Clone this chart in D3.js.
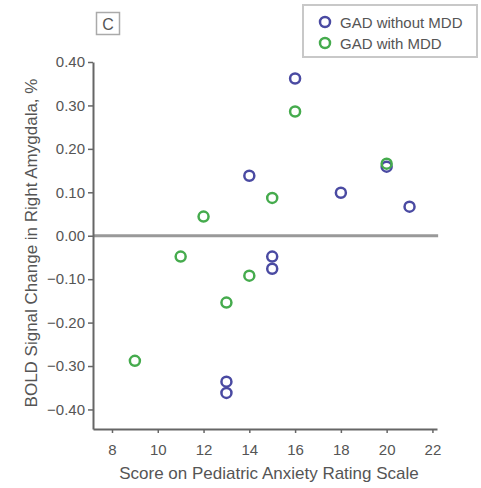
<!DOCTYPE html>
<html>
<head>
<meta charset="utf-8">
<script src="https://cdn.jsdelivr.net/npm/d3@7"></script>
<style>
  html, body { margin: 0; padding: 0; background: #fff; }
  svg { display: block; font-family: "Liberation Sans", Arial, sans-serif; }
</style>
</head>
<body>
<svg id="chart" width="481" height="488"></svg>
<script>
// PARS score vs. BOLD signal change, right amygdala
const withoutMddScores = [16, 14, 18, 20, 21, 15, 15, 13, 13];
const withoutMddBold   = [0.362, 0.138, 0.099, 0.159, 0.067, -0.048, -0.076, -0.336, -0.362];
const withMddScores    = [16, 20, 15, 12, 11, 14, 13, 9];
const withMddBold      = [0.286, 0.166, 0.087, 0.044, -0.048, -0.092, -0.154, -0.288];

const seriesNames  = ["GAD without MDD", "GAD with MDD"];
const seriesColors = ["#4a4aa2", "#45ab4d"];
const xTicks = [8, 10, 12, 14, 16, 18, 20, 22];
const yTicks = [0.40, 0.30, 0.20, 0.10, 0.00, -0.10, -0.20, -0.30, -0.40];
const panelLabel = "C";
const xTitle = "Score on Pediatric Anxiety Rating Scale";
const yTitle = "BOLD Signal Change in Right Amygdala, %";

const svg = d3.select("#chart");
const textColor = "#555";
const axisColor = "#666";

const x = d3.scaleLinear().domain([7.17, 22.2]).range([93, 437]);
const y = d3.scaleLinear().domain([-0.445, 0.40]).range([429, 62]);

// zero reference line
svg.append("line")
  .attr("x1", x(7.17)).attr("x2", x(22.25))
  .attr("y1", y(0)).attr("y2", y(0))
  .attr("stroke", "#999").attr("stroke-width", 3);

// axes
const yAxis = d3.axisLeft(y).tickValues(yTicks)
  .tickFormat(d => (d < 0 ? "\u2212" : "") + Math.abs(d).toFixed(2))
  .tickSize(5).tickPadding(3).tickSizeOuter(0);
const gy = svg.append("g").attr("transform", `translate(${x.range()[0]},0)`).call(yAxis);

const xAxis = d3.axisBottom(x).tickValues(xTicks).tickSize(4).tickPadding(11).tickSizeOuter(0);
const gx = svg.append("g").attr("transform", `translate(0,${y.range()[0]})`).call(xAxis);

[gx, gy].forEach(g => {
  g.select(".domain").attr("stroke", axisColor).attr("stroke-width", 2);
  g.selectAll(".tick line").attr("stroke", axisColor).attr("stroke-width", 1.5);
  g.selectAll(".tick text").attr("fill", textColor)
    .style("font-size", "15px").style("font-family", "\"Liberation Sans\", Arial, sans-serif");
});

// axis titles
svg.append("text")
  .attr("x", 269).attr("y", 479)
  .attr("text-anchor", "middle")
  .attr("fill", textColor).style("font-size", "17px")
  .text(xTitle);

svg.append("text")
  .attr("transform", "translate(37,243) rotate(-90)")
  .attr("text-anchor", "middle")
  .attr("fill", textColor).style("font-size", "17px")
  .text(yTitle);

// panel label
svg.append("rect")
  .attr("x", 96.5).attr("y", 12.5).attr("width", 23).attr("height", 22)
  .attr("fill", "#fff").attr("stroke", "#aaa").attr("stroke-width", 1.5);
svg.append("text")
  .attr("x", 108).attr("y", 29.5).attr("text-anchor", "middle")
  .attr("fill", textColor).style("font-size", "16px")
  .text(panelLabel);

// points
const series = [
  { xs: withoutMddScores, ys: withoutMddBold },
  { xs: withMddScores, ys: withMddBold }
];
series.forEach((s, i) => {
  svg.append("g").selectAll("circle")
    .data(s.xs.map((v, j) => [v, s.ys[j]]))
    .join("circle")
    .attr("cx", d => x(d[0]))
    .attr("cy", d => y(d[1]))
    .attr("r", 5)
    .attr("fill", "none")
    .attr("stroke", seriesColors[i])
    .attr("stroke-width", 2.5);
});

// legend
const legend = svg.append("g");
legend.append("rect")
  .attr("x", 303).attr("y", 5).attr("width", 174).attr("height", 52)
  .attr("fill", "#fff").attr("stroke", "#c8c8c8").attr("stroke-width", 2);
seriesNames.forEach((name, i) => {
  const cy = 22 + i * 21;
  legend.append("circle")
    .attr("cx", 325).attr("cy", cy).attr("r", 5)
    .attr("fill", "none").attr("stroke", seriesColors[i]).attr("stroke-width", 2.5);
  legend.append("text")
    .attr("x", 340).attr("y", cy + 5.5)
    .attr("fill", textColor).style("font-size", "15px")
    .text(name);
});
</script>
</body>
</html>
